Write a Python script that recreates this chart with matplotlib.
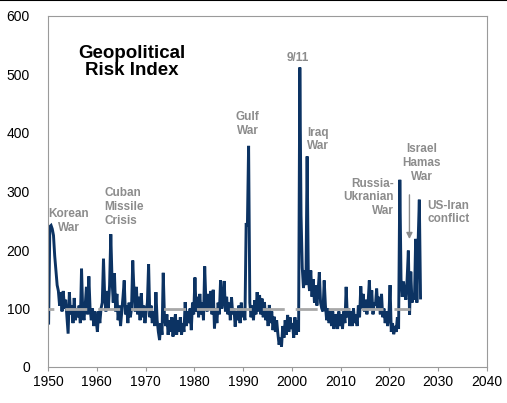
import numpy as np
import matplotlib
matplotlib.use('Agg')
import matplotlib.pyplot as plt
from matplotlib.lines import Line2D

plt.rcParams['font.family'] = ['Liberation Sans', 'DejaVu Sans']

# quarterly index values (Q1..Q4 per year)
gpr_1950s = [75, 240, 242, 236, 225, 190, 165, 140, 130, 105, 128, 95,
             130, 100, 115, 85, 57, 128, 90, 105, 75, 118, 80, 100,
             85, 105, 75, 168, 95, 80, 105, 137, 90, 155, 100, 80,
             100, 70, 95, 80]
gpr_1960s = [60, 95, 75, 100, 110, 185, 120, 95, 130, 100, 140, 227,
             150, 110, 160, 95, 125, 80, 105, 70, 95, 120, 148, 90,
             105, 75, 110, 85, 100, 182, 130, 95, 137, 90, 120, 80,
             126, 85, 105, 75]
gpr_1970s = [95, 110, 176, 85, 105, 75, 95, 70, 128, 80, 60, 46,
             75, 55, 161, 85, 70, 90, 55, 80, 60, 85, 52, 75,
             90, 55, 80, 60, 85, 55, 75, 60, 111, 70, 95, 75,
             100, 63, 110, 90]
gpr_1980s = [153, 95, 120, 85, 125, 90, 110, 80, 172, 110, 95, 125,
             100, 130, 90, 132, 66, 100, 75, 110, 90, 148, 100, 115,
             147, 95, 120, 90, 110, 80, 119, 90, 100, 69, 95, 80,
             105, 75, 110, 85]
gpr_1990s = [95, 80, 246, 240, 378, 110, 85, 105, 80, 114, 90, 128,
             95, 123, 90, 117, 85, 111, 80, 100, 70, 106, 75, 95,
             63, 86, 60, 80, 57, 38, 50, 35, 70, 50, 80, 55,
             89, 60, 85, 65]
gpr_2000s = [75, 50, 85, 55, 80, 60, 512, 260, 170, 135, 165, 140,
             360, 150, 130, 165, 120, 150, 110, 140, 105, 130, 162, 110,
             100, 95, 148, 105, 80, 100, 75, 95, 70, 95, 65, 90,
             85, 65, 95, 70]
gpr_2010s = [90, 65, 95, 75, 137, 85, 100, 70, 95, 70, 100, 75,
             90, 70, 105, 85, 138, 100, 125, 95, 115, 90, 110, 148,
             100, 131, 90, 110, 105, 134, 100, 120, 90, 125, 85, 100,
             75, 95, 70, 85]
gpr_2020s = [140, 60, 75, 56, 70, 60, 85, 65, 320, 150, 120, 146,
             125, 115, 150, 199, 89, 163, 110, 125, 115, 219, 110, 212,
             286, 118]

gpr = np.array(gpr_1950s + gpr_1960s + gpr_1970s + gpr_1980s +
               gpr_1990s + gpr_2000s + gpr_2010s + gpr_2020s, dtype=float)
dates = 1950.125 + 0.25 * np.arange(len(gpr))

x_ticks = [1950, 1960, 1970, 1980, 1990, 2000, 2010, 2020, 2030, 2040]
y_ticks = [0, 100, 200, 300, 400, 500, 600]

# event labels: text, x, y, alignment
events = [
    ('Korean\nWar', 1954.3, 250, 'center'),
    ('Cuban\nMissile\nCrisis', 1961.5, 273, 'left'),
    ('Gulf\nWar', 1990.9, 415, 'center'),
    ('9/11', 2001.25, 528, 'center'),
    ('Iraq\nWar', 2003.1, 389, 'left'),
    ('Russia-\nUkranian\nWar', 2020.9, 290, 'right'),
    ('Israel\nHamas\nWar', 2026.6, 349, 'center'),
    ('US-Iran\nconflict', 2027.7, 264, 'left'),
]

navy = '#0c3363'
grey_txt = '#8c8c8c'
frame = '#9a9a9a'

fig = plt.figure(figsize=(5.07, 4.03), dpi=100)
ax = fig.add_axes([48 / 507, 36 / 403, 439 / 507, 351 / 403])

ax.plot(dates, gpr, color=navy, lw=2.1, solid_joinstyle='miter', zorder=2)
ax.plot([1950, 2024.2], [100, 100], color='#a8a8a8', lw=2,
        linestyle=(5.8, (7.9, 3.95)), zorder=3)

ax.set_xlim(1950, 2040)
ax.set_ylim(0, 600)
ax.set_xticks(x_ticks)
ax.set_yticks(y_ticks)
ax.tick_params(axis='x', direction='out', length=3, width=0.8, color=frame,
               labelsize=10, pad=3)
ax.tick_params(axis='y', length=0, labelsize=10, pad=13)
for s in ax.spines.values():
    s.set_color(frame)
    s.set_linewidth(0.8)

ax.text(0.191, 0.869, 'Geopolitical\nRisk Index', transform=ax.transAxes,
        ha='center', va='center', fontsize=13.5, fontweight='bold',
        linespacing=1.0)

for label, x, y, align in events:
    ax.text(x, y, label, ha=align, va='center', fontsize=8.5,
            fontweight='bold', color=grey_txt, multialignment=align)

ax.annotate('', xy=(2024.1, 214), xytext=(2024.1, 299),
            arrowprops=dict(arrowstyle='-|>', color=grey_txt, lw=1,
                            mutation_scale=9))

fig.add_artist(Line2D([0, 1], [0.999, 0.999], color='black', lw=1.5,
                      transform=fig.transFigure))

fig.savefig('out.png', dpi=100)
